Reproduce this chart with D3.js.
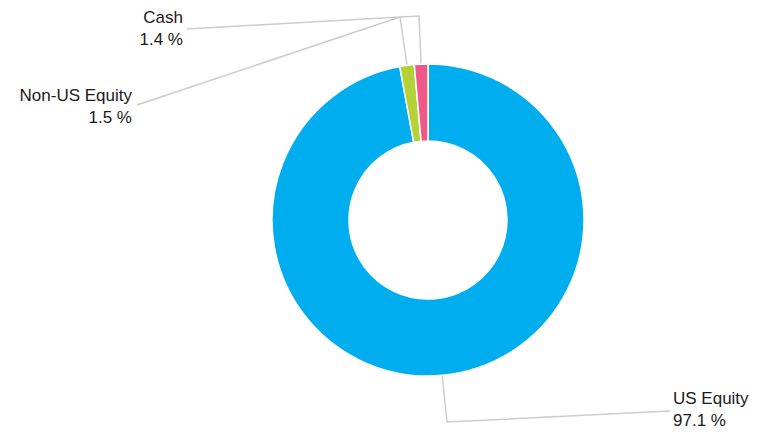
<!DOCTYPE html>
<html>
<head>
<meta charset="utf-8">
<script src="https://cdn.jsdelivr.net/npm/d3@7"></script>
<style>
  html, body { margin: 0; padding: 0; background: #fff; }
  svg { display: block; }
  text { font-family: "Liberation Sans", Arial, sans-serif; font-size: 17px; fill: #1a1a1a; }
</style>
</head>
<body>
<svg id="chart" width="757" height="434"></svg>
<script>
// Asset allocation (percent of portfolio)
const categories = ["US Equity", "Non-US Equity", "Cash"];
const values = [97.1, 1.5, 1.4];
const colors = ["#00AEEF", "#B4D235", "#F0588A"];

// Label placement: text anchor point, alignment and leader elbow points
const labelLayout = [
  { x: 673, y: 404, anchor: "start", path: [[447, 422], [670, 411]] },
  { x: 132, y: 101, anchor: "end",   path: [[400, 17], [137, 105]] },
  { x: 183, y: 23,  anchor: "end",   path: [[419, 16], [400, 17], [187, 29]] }
];

const svg = d3.select("#chart");
const cx = 428, cy = 220, outerR = 156, innerR = 79;

const data = categories.map((c, i) => ({ name: c, value: values[i], color: colors[i], layout: labelLayout[i] }));

const pie = d3.pie().value(d => d.value).sort(null);
const arc = d3.arc().innerRadius(innerR).outerRadius(outerR);
const arcs = pie(data);

// Leader lines, drawn beneath the ring
const line = d3.line();
svg.append("g")
  .selectAll("path")
  .data(arcs)
  .join("path")
  .attr("fill", "none")
  .attr("stroke", "#cccccc")
  .attr("stroke-width", 1.5)
  .attr("d", d => {
    const a = (d.startAngle + d.endAngle) / 2;
    const start = [cx + outerR * Math.sin(a), cy - outerR * Math.cos(a)];
    return line([start, ...d.data.layout.path]);
  });

// Donut ring
svg.append("g")
  .attr("transform", `translate(${cx},${cy})`)
  .selectAll("path")
  .data(arcs)
  .join("path")
  .attr("d", arc)
  .attr("fill", d => d.data.color)
  .attr("stroke", "#fff")
  .attr("stroke-width", 1.5);

// Category labels with percentages
const labels = svg.append("g")
  .selectAll("text")
  .data(arcs)
  .join("text")
  .attr("text-anchor", d => d.data.layout.anchor)
  .attr("x", d => d.data.layout.x)
  .attr("y", d => d.data.layout.y);

labels.append("tspan")
  .attr("x", d => d.data.layout.x)
  .text(d => d.data.name);
labels.append("tspan")
  .attr("x", d => d.data.layout.x)
  .attr("dy", 22)
  .text(d => d3.format(".1f")(d.data.value) + " %");
</script>
</body>
</html>
